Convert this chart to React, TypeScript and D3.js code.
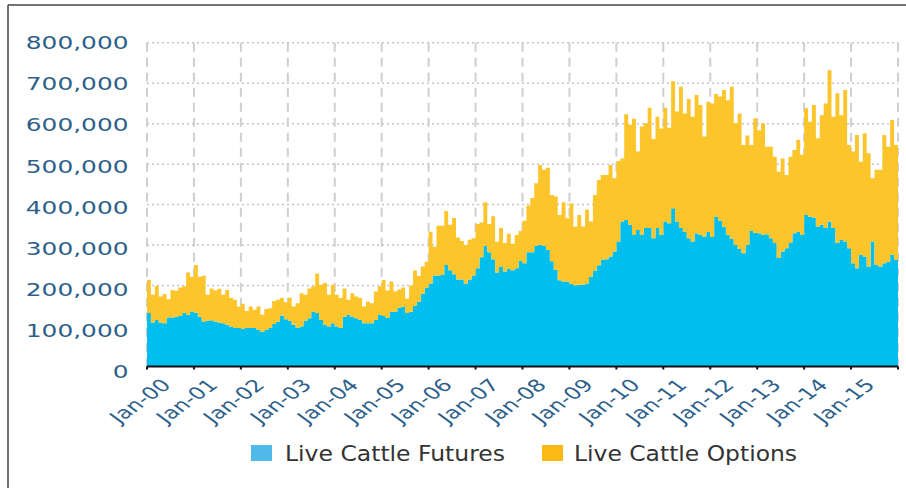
import React from "react";
import * as d3 from "d3";

// Monthly open interest (contracts), Jan-2000 .. Dec-2015
const futures: number[] = [
  132,109,115,109,107,121,121,123,125,133,128,136,
  133,123,111,113,114,111,109,107,103,99,95,95,
  93,96,95,95,91,86,91,95,105,111,126,117,
  113,103,96,99,113,119,136,132,115,103,99,107,
  99,95,123,128,123,119,115,107,107,107,115,128,
  125,120,135,135,145,148,132,135,150,160,180,195,
  205,225,225,226,251,238,228,215,215,205,215,225,
  243,270,298,282,265,232,247,235,241,238,243,261,
  255,282,282,298,301,298,288,260,239,213,210,210,
  204,201,202,202,205,222,237,250,264,265,272,284,
  309,358,362,350,325,337,325,342,342,317,342,325,
  358,354,391,358,342,333,317,309,329,325,321,333,
  320,370,360,345,325,315,300,290,280,300,335,330,
  329,325,327,317,305,268,284,292,305,329,333,325,
  374,370,368,346,350,342,358,342,305,313,309,292,
  255,243,276,272,247,309,251,247,255,259,276,263,
].map((v) => v * 1000);

const options: number[] = [
  82,68,84,64,72,45,68,64,70,65,104,86,
  118,99,113,64,79,77,83,70,86,70,70,53,
  62,41,53,45,57,42,51,49,57,54,43,42,
  57,45,60,82,64,74,62,98,87,103,78,95,
  78,74,70,37,58,54,54,41,53,49,70,70,
  89,68,75,50,45,47,36,65,87,64,67,64,
  128,71,123,122,133,112,139,104,95,95,98,92,
  109,86,108,70,106,76,95,70,87,65,82,74,
  105,116,134,155,197,188,203,164,181,161,196,156,
  199,145,172,144,183,136,187,211,209,208,226,181,
  199,156,261,247,287,194,268,259,297,245,275,263,
  281,236,314,272,349,292,344,308,342,321,247,321,
  330,303,307,338,333,376,301,335,267,271,212,283,
  255,276,216,226,213,213,230,181,213,206,227,198,
  264,235,278,218,271,308,374,275,370,308,374,255,
  276,329,230,304,280,156,235,239,317,284,333,284,
].map((v) => v * 1000);

const yearLabels: string[] = [
  "Jan-00","Jan-01","Jan-02","Jan-03","Jan-04","Jan-05","Jan-06","Jan-07",
  "Jan-08","Jan-09","Jan-10","Jan-11","Jan-12","Jan-13","Jan-14","Jan-15",
];
const yTicks: number[] = [0,100000,200000,300000,400000,500000,600000,700000,800000];
const seriesNames: string[] = ["Live Cattle Futures", "Live Cattle Options"];

const W = 906;
const H = 488;

export default function App() {
  const n = futures.length;
  const x = d3.scaleLinear().domain([0, n]).range([147, 898]);
  const y = d3.scaleLinear().domain([0, 800000]).range([366.5, 42.7]);
  const yLab = d3.scaleLinear().domain([0, 800000]).range([371.7, 42.7]);

  const rows = futures.map((f, i) => ({ i, futures: f, options: options[i] }));
  const stacked = d3.stack<any>().keys(["futures", "options"])(rows);

  const area = d3
    .area<any>()
    .x((d: any) => x(d.data.i))
    .y0((d: any) => y(d[0]))
    .y1((d: any) => y(d[1]))
    .curve(d3.curveStepAfter);

  const extend = (s: any[]) => {
    const last = s[s.length - 1];
    const ext: any = [last[0], last[1]];
    ext.data = { i: n };
    return [...s, ext];
  };

  const colors = ["#00BFEF", "#FCC52C"];
  const legendColors = ["#51B9E9", "#FDB913"];
  const axisColor = "#2d5f8b";
  const font = "'DejaVu Sans', sans-serif";
  const yearIdx = d3.range(0, n + 1, 12);

  const legend = [
    { sx: 251, tx: 285, tl: 220 },
    { sx: 542, tx: 574, tl: 223 },
  ];

  return (
    <svg
      width={W}
      height={H}
      style={{ position: "absolute", left: 0, top: 0, background: "#fff" }}
      fontFamily={font}
    >
      <rect x={0} y={0} width={W} height={H} fill="#fff" />
      {/* frame */}
      <line x1={8} y1={5} x2={W} y2={5} stroke="#444" strokeWidth={1.5} />
      <line x1={8} y1={5} x2={8} y2={H} stroke="#444" strokeWidth={1.5} />

      {/* horizontal dotted gridlines */}
      {yTicks.slice(1).map((t) => (
        <line
          key={"h" + t}
          x1={x(0)}
          x2={x(n)}
          y1={y(t)}
          y2={y(t)}
          stroke="#c4c4c4"
          strokeWidth={1.5}
          strokeDasharray="2,3"
        />
      ))}
      {/* vertical dashed gridlines */}
      {yearIdx.map((i) => (
        <line
          key={"v" + i}
          x1={x(i)}
          x2={x(i)}
          y1={y(800000)}
          y2={y(0)}
          stroke="#cfcfcf"
          strokeWidth={2}
          strokeDasharray="9,6"
        />
      ))}

      {/* stacked step areas */}
      {stacked.map((s, k) => (
        <path key={"a" + k} d={area(extend(s as any)) as string} fill={colors[k]} />
      ))}

      {/* x axis */}
      <line x1={x(0)} x2={x(n)} y1={y(0)} y2={y(0)} stroke="#111" strokeWidth={2} />
      {yearIdx.map((i) => (
        <line
          key={"t" + i}
          x1={x(i)}
          x2={x(i)}
          y1={y(0)}
          y2={y(0) + 3}
          stroke="#111"
          strokeWidth={2}
        />
      ))}

      {/* y labels */}
      {yTicks.map((t) => (
        <text
          key={"yl" + t}
          transform={`translate(128.5,${yLab(t) + 6.5}) scale(1.38,1)`}
          textAnchor="end"
          fontSize={18}
          fill={axisColor}
        >
          {d3.format(",")(t)}
        </text>
      ))}

      {/* x labels */}
      {yearLabels.map((lab, k) => (
        <text
          key={"xl" + k}
          transform={`translate(${x(k * 12) + 25},386) scale(1.38,1) rotate(-45)`}
          textAnchor="end"
          fontSize={17}
          fill={axisColor}
        >
          {lab}
        </text>
      ))}

      {/* legend */}
      {seriesNames.map((name, k) => (
        <g key={"lg" + k}>
          <rect x={legend[k].sx} y={445} width={21} height={16} fill={legendColors[k]} />
          <text
            x={legend[k].tx}
            y={460.5}
            fontSize={21}
            fill="#333"
            textLength={legend[k].tl}
            lengthAdjust="spacingAndGlyphs"
          >
            {name}
          </text>
        </g>
      ))}
    </svg>
  );
}
